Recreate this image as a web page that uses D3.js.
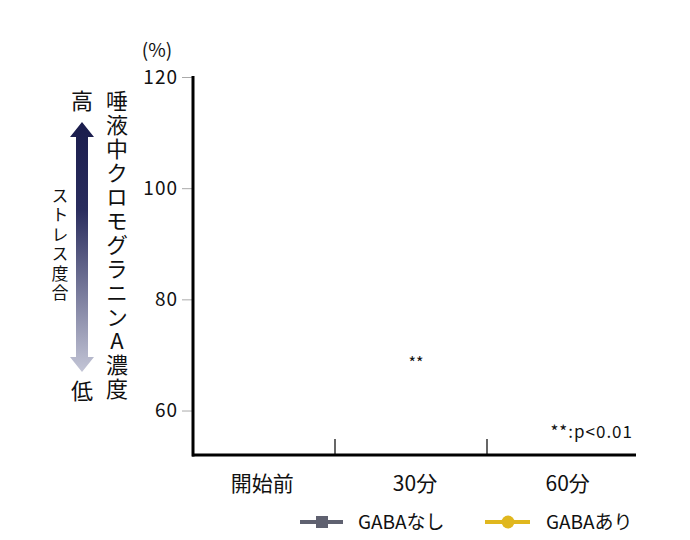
<!DOCTYPE html>
<html><head><meta charset="utf-8">
<script src="https://cdn.jsdelivr.net/npm/d3@7"></script>
<style>body{margin:0;background:#fff}svg{display:block}text{font-family:"Noto Sans CJK JP","Noto Sans",sans-serif}</style>
</head><body><svg id="c" width="690" height="540"></svg>
<script>
const categories = ["開始前", "30分", "60分"];
const yTicks = [60, 80, 100, 120];
const yDomain = [52, 120];
const seriesNames = ["GABAなし", "GABAあり"];
const seriesColors = ["#5f6170", "#e0b71e"];
const seriesValues = [[], []]; // no data points are drawn in the reference
const sigMarks = [{cat: "30分", value: 70, label: "**"}];
const yTitle = "唾液中クロモグラニンA濃度";
const stressLabel = "ストレス度合";

const svg = d3.select("#c");
const x = d3.scaleBand().domain(categories).range([182, 640]);
const y = d3.scaleLinear().domain(yDomain).range([455, 77]);

// y ticks
const yAxis = svg.append("g").attr("transform", "translate(193,0)")
  .call(d3.axisLeft(y).tickValues(yTicks).tickSize(11).tickPadding(4));
yAxis.select(".domain").remove();
yAxis.selectAll(".tick line").attr("stroke", "#aaa").attr("stroke-width", 1);
yAxis.selectAll(".tick text").attr("font-size", 19).attr("letter-spacing", 1).attr("fill", "#111")
  .attr("font-family", '"Noto Sans CJK JP",sans-serif');

// axes lines
svg.append("line").attr("x1", 193).attr("x2", 193).attr("y1", y(120) - 1).attr("y2", 456.5)
  .attr("stroke", "#000").attr("stroke-width", 3);
svg.append("line").attr("x1", 192).attr("x2", 636).attr("y1", 455).attr("y2", 455)
  .attr("stroke", "#000").attr("stroke-width", 3);

// category separators
categories.slice(1).forEach(c => {
  svg.append("line").attr("x1", Math.round(x(c))).attr("x2", Math.round(x(c)))
    .attr("y1", 439).attr("y2", 455).attr("stroke", "#000").attr("stroke-width", 1.2);
});
// category labels
svg.selectAll(".cl").data(categories).join("text")
  .attr("x", d => x(d) + x.bandwidth() / 2 + 4).attr("y", 491)
  .attr("text-anchor", "middle").attr("font-size", 21).attr("fill", "#111").text(d => d);

// series lines (empty)
const line = d3.line().x((d, i) => x(categories[i]) + x.bandwidth() / 2).y(d => y(d));
seriesValues.forEach((vals, i) => {
  if (vals.length) svg.append("path").attr("d", line(vals)).attr("fill", "none")
    .attr("stroke", seriesColors[i]).attr("stroke-width", 3);
});

// significance
sigMarks.forEach(s => {
  svg.append("text").attr("x", x(s.cat) + x.bandwidth() / 2 + 5).attr("y", y(s.value) + 14)
    .attr("text-anchor", "middle").attr("font-size", 16).attr("fill", "#111").text(s.label);
});
svg.append("text").attr("x", 633).attr("y", 438).attr("text-anchor", "end")
  .attr("font-size", 17).attr("letter-spacing", 1).attr("fill", "#111").text("**:p<0.01");

// (%)
svg.append("text").attr("x", 157).attr("y", 57).attr("text-anchor", "middle")
  .attr("font-size", 19).attr("fill", "#111").text("(%)");

// vertical title
svg.append("text").attr("x", 117).attr("y", 90)
  .style("writing-mode", "vertical-rl").style("text-orientation", "upright")
  .attr("letter-spacing", 2).attr("font-size", 22).attr("fill", "#111").text(yTitle);
// 高 / 低
svg.append("text").attr("x", 82).attr("y", 101).attr("dy", "0.36em").attr("text-anchor", "middle")
  .attr("font-size", 22).attr("fill", "#111").text("高");
svg.append("text").attr("x", 82).attr("y", 391).attr("dy", "0.36em").attr("text-anchor", "middle")
  .attr("font-size", 22).attr("fill", "#111").text("低");
// stress label
svg.append("text").attr("x", 60).attr("y", 187)
  .style("writing-mode", "vertical-rl").style("text-orientation", "upright")
  .attr("letter-spacing", 2.5).attr("font-size", 17).attr("fill", "#111").text(stressLabel);

// arrow with gradient
const defs = svg.append("defs");
const grad = defs.append("linearGradient").attr("id", "ag").attr("x1", 0).attr("x2", 0).attr("y1", 0).attr("y2", 1);
grad.append("stop").attr("offset", "0%").attr("stop-color", "#1a1c4c");
grad.append("stop").attr("offset", "35%").attr("stop-color", "#2a2d5e");
grad.append("stop").attr("offset", "100%").attr("stop-color", "#c3c5d6");
svg.append("path")
  .attr("d", "M82,122 L94,137 L88,137 L88,357 L94,357 L82,372 L70,357 L76,357 L76,137 L70,137 Z")
  .attr("fill", "url(#ag)");

// legend
const lg = svg.append("g");
lg.append("line").attr("x1", 300).attr("x2", 343).attr("y1", 522).attr("y2", 522)
  .attr("stroke", seriesColors[0]).attr("stroke-width", 4);
lg.append("rect").attr("x", 316).attr("y", 516).attr("width", 12).attr("height", 12).attr("fill", seriesColors[0]);
lg.append("text").attr("x", 358).attr("y", 529).attr("font-size", 19).attr("fill", "#111").text(seriesNames[0]);
lg.append("line").attr("x1", 485).attr("x2", 530).attr("y1", 522).attr("y2", 522)
  .attr("stroke", seriesColors[1]).attr("stroke-width", 4);
lg.append("circle").attr("cx", 508).attr("cy", 522).attr("r", 6.5).attr("fill", seriesColors[1]);
lg.append("text").attr("x", 546).attr("y", 529).attr("font-size", 19).attr("fill", "#111").text(seriesNames[1]);
</script></body></html>
